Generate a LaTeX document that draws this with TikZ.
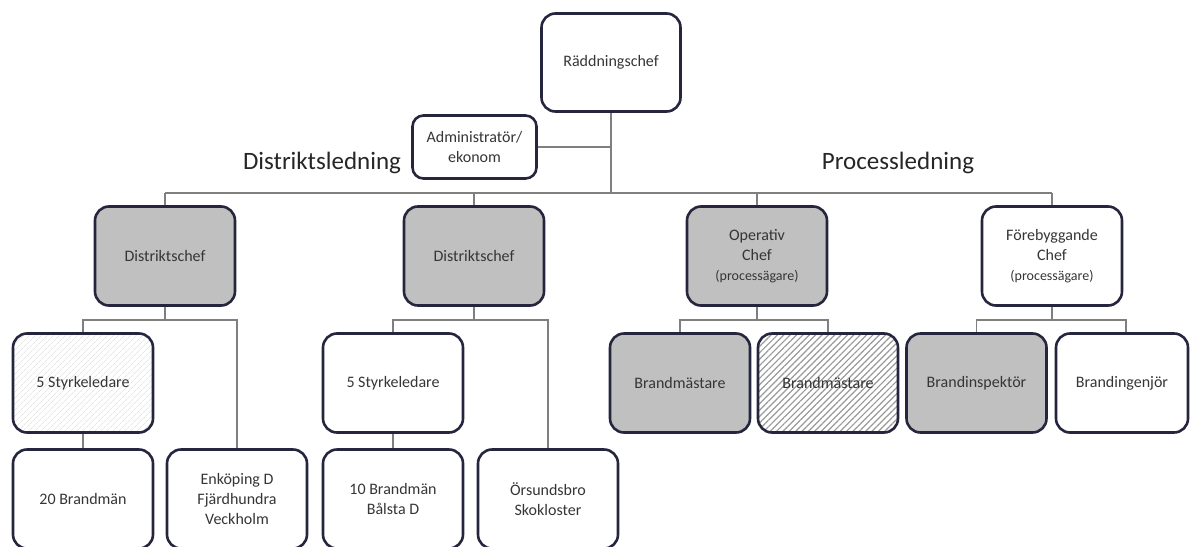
\documentclass[tikz,border=0pt]{standalone}
\usepackage{fontspec}
\setmainfont{Carlito}
\usetikzlibrary{patterns.meta}
\pgfdeclarelayer{background}
\pgfsetlayers{background,main}
\definecolor{bord}{HTML}{25253D}
\definecolor{connc}{HTML}{7F7F7F}
\definecolor{boxgray}{HTML}{C0C0C0}
\definecolor{txt}{HTML}{353535}
\tikzset{
  orgbox/.style={draw=bord, line width=2.6pt, rounded corners=14pt,
    minimum width=140pt, minimum height=99pt, align=center, text=txt,
    inner sep=2pt, font=\fontsize{16}{20}\selectfont},
  adminbox/.style={orgbox, rounded corners=11pt, minimum width=124pt, minimum height=63pt},
  grayfill/.style={fill=boxgray},
  lighthatch/.style={pattern={Lines[angle=45,distance=4pt,line width=0.8pt]}, pattern color=black!10},
  darkhatch/.style={pattern={Lines[angle=45,distance=4.5pt,line width=1.2pt]}, pattern color=black!40},
  connline/.style={draw=connc, line width=1.4pt},
  titletext/.style={font=\fontsize{25}{30}\selectfont, text=black!85}
}
\newcommand{\smallpart}[1]{{\fontsize{14}{18}\selectfont #1}}
\begin{document}
\begin{tikzpicture}[x=1pt,y=-1pt]
\useasboundingbox (0,0) rectangle (1190,546);
% top
\node[orgbox, minimum width=139pt, minimum height=98pt] (rc) at (611,62.5) {Räddningschef};
\node[adminbox] (adm) at (474.5,147) {Administratör/\\ekonom};
\node[titletext] (tdl) at (322,163) {Distriktsledning};
\node[titletext] (tpl) at (898,163) {Processledning};
% row 1
\node[orgbox, grayfill] (d1) at (165,256) {Distriktschef};
\node[orgbox, grayfill] (d2) at (474,256) {Distriktschef};
\node[orgbox, grayfill] (op) at (757,256) {Operativ\\Chef\\\smallpart{(processägare)}};
\node[orgbox] (fb) at (1052,256) {Förebyggande\\Chef\\\smallpart{(processägare)}};
% row 2
\node[orgbox, lighthatch] (s1) at (83,383) {5 Styrkeledare};
\node[orgbox] (s2) at (393,383) {5 Styrkeledare};
\node[orgbox, grayfill] (b1) at (680,383) {Brandmästare};
\node[orgbox, darkhatch] (b2) at (828,383) {Brandmästare};
\node[orgbox, grayfill] (bi) at (976.5,383) {Brandinspektör};
\node[orgbox, minimum width=132pt] (be) at (1122,383) {Brandingenjör};
% row 3
\node[orgbox] (e0) at (83,499) {20 Brandmän};
\node[orgbox] (e1) at (237,499) {Enköping D\\Fjärdhundra\\Veckholm};
\node[orgbox] (e2) at (393,499) {10 Brandmän\\Bålsta D};
\node[orgbox] (e3) at (548,499) {Örsundsbro\\Skokloster};
% bus coordinates
\coordinate (busA) at (0,193);
\coordinate (busB) at (0,320);
\coordinate (beTop) at ([xshift=4pt]be.north);
\begin{pgfonlayer}{background}
\draw[connline] (rc.south) -- (rc.south |- busA);
\draw[connline] (adm.east) -- (adm.east -| rc.south);
\draw[connline] (d1.north |- busA) -- (fb.north |- busA);
\foreach \n in {d1,d2,op,fb} \draw[connline] (\n.north |- busA) -- (\n.north);
% under d1
\draw[connline] (d1.south) -- (d1.south |- busB);
\draw[connline] (s1.north) -- (s1.north |- busB) -- (e1.north |- busB) -- (e1.north);
\draw[connline] (s1.south) -- (e0.north);
% under d2
\draw[connline] (d2.south) -- (d2.south |- busB);
\draw[connline] (s2.north) -- (s2.north |- busB) -- (e3.north |- busB) -- (e3.north);
\draw[connline] (s2.south) -- (e2.north);
% under op
\draw[connline] (op.south) -- (op.south |- busB);
\draw[connline] (b1.north) -- (b1.north |- busB) -- (b2.north |- busB) -- (b2.north);
% under fb
\draw[connline] (fb.south) -- (fb.south |- busB);
\draw[connline] (bi.north) -- (bi.north |- busB) -- (beTop |- busB) -- (beTop);
\end{pgfonlayer}
\end{tikzpicture}
\end{document}
